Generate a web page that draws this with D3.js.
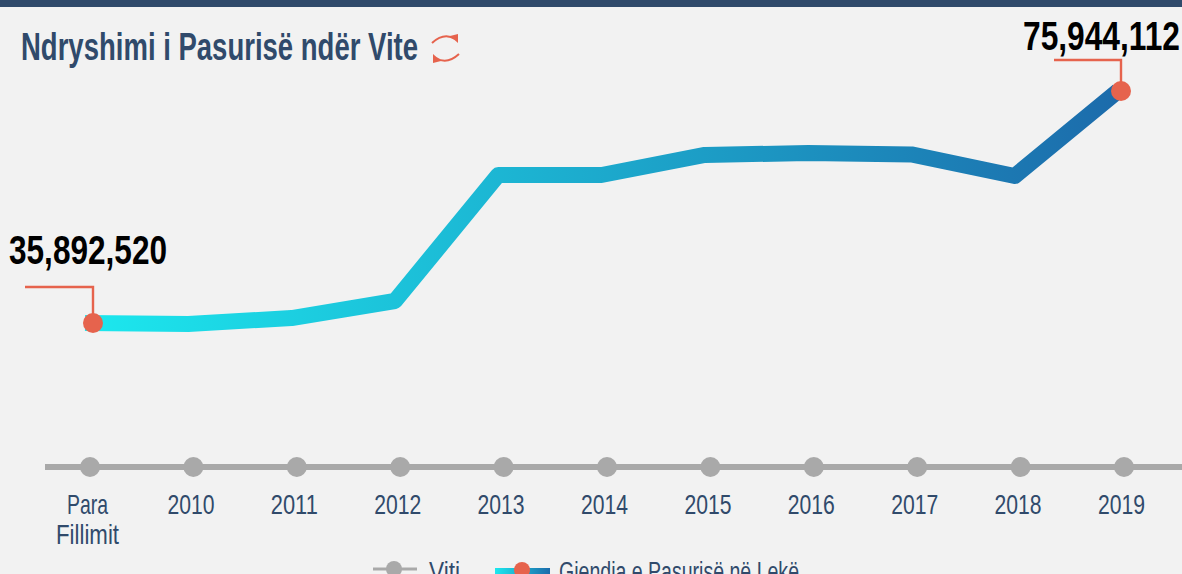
<!DOCTYPE html>
<html lang="sq">
<head>
  <meta charset="UTF-8">
  <title>Ndryshimi i Pasurisë ndër Vite</title>
  <script src="https://cdn.jsdelivr.net/npm/d3@7"></script>
  <style>
    html, body { margin: 0; padding: 0; overflow: hidden; background: #f2f2f2; }
    text { font-family: "Liberation Sans Narrow", "Liberation Sans", sans-serif; }
  </style>
</head>
<body>
<script>
  const categories = ["Para Fillimit", "2010", "2011", "2012", "2013", "2014", "2015", "2016", "2017", "2018", "2019"];
  const wealth = [35892520, 35720000, 36750000, 39690000, 61440000, 61440000, 64900000, 65240000, 65000000, 61270000, 75944112];
  const titleText = "Ndryshimi i Pasurisë ndër Vite";
  const legendYear = "Viti";
  const legendWealth = "Gjendja e Pasurisë në Lekë";

  const width = 1182, height = 574;
  const navy = "#304a6b", coral = "#e6634d", grey = "#a9a9a9";

  const svg = d3.select("body").append("svg")
    .attr("width", width)
    .attr("height", height)
    .style("display", "block");

  const defs = svg.append("defs");

  function addGradient(id, x1, x2) {
    const g = defs.append("linearGradient").attr("id", id)
      .attr("gradientUnits", "userSpaceOnUse")
      .attr("x1", x1).attr("x2", x2).attr("y1", 0).attr("y2", 0);
    g.append("stop").attr("offset", "0%").attr("stop-color", "#1ce8ee");
    g.append("stop").attr("offset", "100%").attr("stop-color", "#1c6bab");
  }
  addGradient("lineGradient", 85, 1118);
  addGradient("legendGradient", 495, 550);

  // text squeezed to the measured width, stands in for the condensed webfont
  function label(parent, str, x, y, size, w, color, weight) {
    return parent.append("text")
      .attr("x", x).attr("y", y)
      .attr("font-size", size)
      .attr("font-weight", weight || "normal")
      .attr("fill", color)
      .attr("textLength", w)
      .attr("lengthAdjust", "spacingAndGlyphs")
      .text(str);
  }

  svg.append("rect").attr("width", width).attr("height", 7).attr("fill", navy);

  label(svg, titleText, 21, 60, 38, 397, navy, "bold");

  // refresh icon next to the title
  const icon = svg.append("g").attr("fill", "none").attr("stroke", coral).attr("stroke-width", 2);
  icon.append("path").attr("d", "M432,43 Q444,32 455,39");
  icon.append("path").attr("d", "M459,54 Q447,65 436,58");
  svg.append("path").attr("fill", coral).attr("d", "M450,36 L458,34 L458,43 Z");
  svg.append("path").attr("fill", coral).attr("d", "M441,61 L433,63 L433,54 Z");

  // category axis
  const xAxisScale = d3.scalePoint().domain(categories).range([90, 1124]);
  const xLine = d3.scalePoint().domain(categories).range([85, 1118]);
  const xMarker = d3.scalePoint().domain(categories).range([93, 1121]);
  const y = d3.scaleLinear().domain([35892520, 75944112]).range([323, 91]);

  svg.append("line")
    .attr("x1", 45).attr("x2", width)
    .attr("y1", 467).attr("y2", 467)
    .attr("stroke", grey).attr("stroke-width", 6);

  svg.selectAll("circle.tick-dot")
    .data(categories)
    .enter()
    .append("circle")
    .attr("class", "tick-dot")
    .attr("cx", d => xAxisScale(d))
    .attr("cy", 467)
    .attr("r", 10)
    .attr("fill", grey);

  const axis = svg.append("g")
    .attr("transform", "translate(-3,467)")
    .call(d3.axisBottom(xAxisScale).tickSize(0).tickPadding(0).tickFormat(""));
  axis.select(".domain").remove();

  axis.selectAll(".tick").each(function (d) {
    const tick = d3.select(this);
    tick.select("text").remove();
    const words = d.split(" ");
    if (words.length > 1) {
      label(tick, words[0], 0, 47, 28, 41, navy);
      label(tick, words[1], 0, 77, 28, 63, navy);
    } else {
      label(tick, d, 0, 47, 28, 47, navy);
    }
  });

  // wealth line
  const line = d3.line()
    .x((d, i) => xLine(categories[i]))
    .y(d => y(d));

  svg.append("path")
    .datum(wealth)
    .attr("d", line)
    .attr("fill", "none")
    .attr("stroke", "url(#lineGradient)")
    .attr("stroke-width", 16)
    .attr("stroke-linejoin", "round");

  // end callouts
  const firstIdx = 0, lastIdx = wealth.length - 1;
  const fmt = d3.format(",");

  function callout(i, armX, armY, textX, textY, textW) {
    const px = xMarker(categories[i]), py = y(wealth[i]);
    svg.append("path")
      .attr("d", `M${armX},${armY} H${px} V${py}`)
      .attr("fill", "none")
      .attr("stroke", coral)
      .attr("stroke-width", 2.4);
    svg.append("circle").attr("cx", px).attr("cy", py).attr("r", 10).attr("fill", coral);
    label(svg, fmt(wealth[i]), textX, textY, 40, textW, "#000", "bold");
  }
  callout(firstIdx, 25, 287, 9, 264, 158);
  callout(lastIdx, 1054, 60, 1023, 50, 157);

  // legend, cut off by the bottom of the window
  svg.append("line").attr("x1", 373).attr("x2", 417).attr("y1", 569).attr("y2", 569)
    .attr("stroke", grey).attr("stroke-width", 3);
  svg.append("circle").attr("cx", 394).attr("cy", 569).attr("r", 8).attr("fill", grey);
  label(svg, legendYear, 429, 581, 27, 31, navy);

  svg.append("rect").attr("x", 495).attr("y", 568).attr("width", 55).attr("height", 6)
    .attr("fill", "url(#legendGradient)");
  svg.append("circle").attr("cx", 522).attr("cy", 570).attr("r", 8).attr("fill", coral);
  label(svg, legendWealth, 559, 581, 27, 240, navy);
</script>
</body>
</html>
